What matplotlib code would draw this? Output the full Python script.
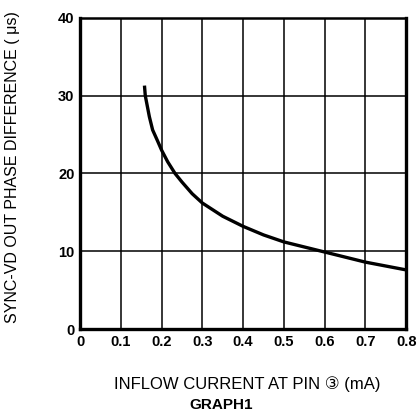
"""
Sync-VD out phase difference vs inflow current at pin 3 (GRAPH1)
"""

### Import modules
import numpy as np
import matplotlib.pyplot as plt

### Data
current = np.array([0.158,0.160,0.170,0.178,0.190,0.200,0.215,0.233,0.250,
                    0.275,0.300,0.350,0.400,0.450,0.500,0.600,0.700,0.800])
phase = np.array([31.3,30.0,27.3,25.6,24.2,23.0,21.5,20.0,18.9,
                  17.4,16.2,14.5,13.2,12.1,11.2,9.9,8.6,7.6])

xticks = np.arange(0,0.81,0.1)
xlabels = ['0','0.1','0.2','0.3','0.4','0.5','0.6','0.7','0.8']
yticks = np.arange(0,41,10)
ylabels = ['0','10','20','30','40']

### Plot figure
plt.rcParams['font.family'] = ['Liberation Sans','DejaVu Sans']

fig = plt.figure(figsize=(4.17,4.17),dpi=100)
ax = fig.add_axes([0.192,0.211,0.782,0.746])

ax.plot(current,phase,color='k',linewidth=2.4,solid_capstyle='butt',zorder=3)

ax.set_xlim([0,0.8])
ax.set_ylim([0,40])
ax.set_xticks(xticks)
ax.set_xticklabels(xlabels,fontsize=10.5,fontweight='bold')
ax.set_yticks(yticks)
ax.set_yticklabels(ylabels,fontsize=10.5,fontweight='bold')
ax.tick_params('both',length=0,pad=4)

ax.grid(True,color='k',linewidth=1.1,zorder=1)
for loc in ['left','bottom','right']:
    ax.spines[loc].set_linewidth(2.4)
ax.spines['top'].set_linewidth(1.8)

fig.text(0.03,0.6,'SYNC-VD OUT PHASE DIFFERENCE ( \u03bcs)',rotation=90,
         ha='center',va='center',fontsize=11.5)
fig.text(0.592,0.079,'INFLOW CURRENT AT PIN \u2462 (mA)',
         ha='center',va='center',fontsize=12)
fig.text(0.53,0.029,'GRAPH1',ha='center',va='center',fontsize=11,
         fontweight='bold')

plt.savefig('out.png',dpi=100)
